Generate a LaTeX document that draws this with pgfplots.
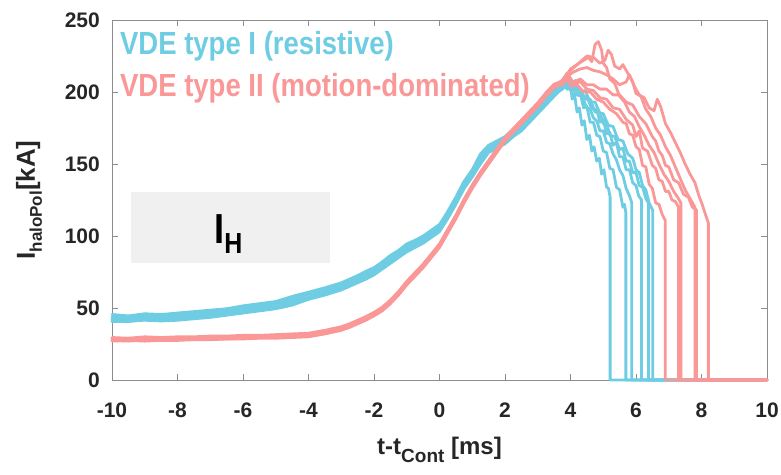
\documentclass[border=0pt]{standalone}
\usepackage{fontspec}
\setmainfont{Liberation Sans}
\newfontfamily\narrowfont{Liberation Sans}[FakeStretch=0.86]
\usepackage{pgfplots}
\pgfplotsset{compat=1.18}
\usepackage{pgfplotstable}
\definecolor{cy}{RGB}{110,205,226}
\definecolor{sa}{RGB}{250,152,152}
\definecolor{axgray}{RGB}{140,140,140}
\definecolor{tk}{RGB}{38,38,38}
\definecolor{boxgray}{RGB}{240,240,240}

\pgfplotstableread{
x c1 c2 c3 c4 c5 c6 s1 s2 s3 s4 s5 s6
-10 40.5 44 42 41 43 45.5 27 29 28 27.5 28.5 29.5
-9.5 41 43.5 42.5 40.5 44 44.5 27.5 28.5 28 27 29 29
-9 41.5 45 43 42 43.5 46 27 29.5 28.5 28 28.5 30
-8.5 41 44.5 43.5 42.5 44.5 45.5 27.5 29 28 27.5 29 29.5
-8 41.5 45.5 43 42 44 46.5 27.5 29.5 28.5 28 29 30
-7.5 42.5 46 44.5 43.5 46 47.5 28 29.5 28.5 28.5 29 30
-7 43.5 47.5 45 44.5 46.5 48.5 28 30 29 28.5 29.5 30.5
-6.5 45 48.5 47 46.5 48 49.5 28.5 30 29 28.5 30 30.5
-6 46.5 50.5 48 47.5 49.5 51.5 28.5 30.5 29.5 29 30 31
-5.5 48 51.5 50.5 49 51 53 29 30.5 29.5 29.5 30.5 31
-5 49.5 53.5 51 50.5 53 54.5 29 31 30 29.5 30.5 31.5
-4.5 52 57 55 53 56 58 29.5 31.5 30.5 30 31 32
-4 56 60 57.5 57 59.5 61 30 32 31 30.5 31.5 32.5
-3.5 59 63 61.5 60 62 64 32 34 33 32.5 33.5 34.5
-3 62.5 66.5 64 63.5 66 67.5 34.5 36.5 35.5 35 36 37
-2.75 65 68.5 67 66.5 68 70 36.5 38.5 37.5 37 38.5 39
-2.5 67.5 71.5 69 68.5 71 72.5 39 41 40 39.5 40.5 41.5
-2.25 70 74 72.5 71 73 75.5 41.5 43.5 42.5 42 43 44
-2 73 77.5 75 74 76 78 44.5 46.5 45.5 45 46 47
-1.75 77 81 79.5 78 80 82 48 50 49.5 48.5 49.5 50.5
-1.5 81 85 83 82.5 84 86.5 53 55 54 53.5 54.5 55.5
-1.25 85 89.5 87 86 88 90 59 61 60 59.5 60.5 61.5
-1 89 93 91.5 90 92 94.5 66 68 67 66.5 67.5 68.5
-0.75 92 96 94 93.5 95 97 72 74 73 72.5 73.5 74.5
-0.5 95 99.5 97 96 98 100 78 80 79 78.5 79.5 80.5
-0.25 99 103 101 100.5 102 104 85 87 86 85.5 86.5 87.5
0 103 107 105 104 106.5 108 92 94 93 92.5 93.5 94.5
0.25 112 116 114 113 115 117 102 104 103 102.5 103.5 104.5
0.5 122 126 123 123 125 127 112 114 113 112.5 113.5 114.5
0.75 133 137 135 133 136 138 123 125 124 123.5 124.5 125.5
1 141 145 143 142 144 146 133 135 134 133.5 134.5 135.5
1.25 150 155 152 151 153 157 142 144 143 142.5 143.5 144.5
1.5 158 162 160 159 161 163 150 152 151 150.5 151.5 152.5
1.75 161 165 163 162 164 166 158 160 159 158.5 159.5 160.5
2 164 168 166 165 167 169 166 168 167 166.5 167.5 168.5
2.25 169 173 171 170 172 174 172 174 173 172.5 173.5 174.5
2.5 173 177 175 174 176 178 178 180 179 178.5 179.5 180.5
2.75 179 183 181 180 182 184 184 186 185 184.5 185.5 186.5
3 185 189 187 186 188 190 190 192 191 190.5 191.5 192.5
3.25 191 195 193 192 194 196 197 199 198 197.5 198.5 199.5
3.5 197 201 199 198 200 202 203 205 204 203.5 204.5 205.5
3.75 203 206 204 202 205 207 206 208 207 208 205 207
}\early

\begin{document}
\begin{tikzpicture}
\begin{axis}[
  scale only axis, width=655pt, height=360pt,
  xmin=-10, xmax=10, ymin=0, ymax=250,
  xtick={-10,-8,...,10}, ytick={0,50,...,250},
  tick align=inside, major tick length=6pt,
  axis line style={axgray, line width=0.8pt},
  tick style={axgray, line width=0.8pt},
  /pgf/number format/assume math mode=true,
  ticklabel style={font=\bfseries\fontsize{21}{24}\selectfont, text=tk},
  xticklabel style={anchor=base, yshift=-37pt},
  yticklabel style={anchor=east, inner sep=0pt, xshift=-12pt},
  xlabel={t-t\raisebox{-8pt}{\fontsize{19}{19}\selectfont Cont} [ms]},
  xlabel style={at={(axis description cs:0.5,-0.2083)}, anchor=base, font=\bfseries\fontsize{24}{28}\selectfont, text=tk},
  ylabel={I\raisebox{-7pt}{\fontsize{17}{17}\selectfont haloPol}[kA]},
  ylabel style={at={(axis description cs:-0.1176,0.5)}, anchor=base, font=\bfseries\fontsize{26}{30}\selectfont, text=tk},
  clip=false,
  cyl/.style={cy, line width=2.8pt, line join=round, line cap=round},
  sal/.style={sa, line width=2.8pt, line join=round, line cap=round},
]
\fill[boxgray] (axis cs:-9.42,81.25) rectangle (axis cs:-3.34,130.6);
\node[anchor=base west, inner sep=0, text=black, font=\narrowfont\bfseries] at (axis cs:-6.88,95.1)
  {\fontsize{42}{42}\selectfont I\raisebox{-10pt}{\fontsize{29}{29}\selectfont H}};

% type I (cyan)
\addplot[cyl] table[x=x,y=c1]{\early};
\addplot[cyl] table[x=x,y=c2]{\early};
\addplot[cyl] table[x=x,y=c3]{\early};
\addplot[cyl] table[x=x,y=c4]{\early};
\addplot[cyl] table[x=x,y=c5]{\early};
\addplot[cyl] table[x=x,y=c6]{\early};
\addplot[cyl] coordinates {(3.75,203)(3.85,208)(3.92,202)(4.0,205)(4.05,195)(4.12,199)(4.2,186)(4.27,189)(4.35,177)(4.42,180)(4.5,167)(4.58,170)(4.65,159)(4.72,162)(4.8,152)(4.88,154)(4.95,143)(5.02,146)(5.1,134)(5.16,133)(5.21,127)(5.21,0)(10,0)};
\addplot[cyl] coordinates {(3.75,206)(3.9,210)(4.0,203)(4.1,207)(4.2,198)(4.3,199)(4.4,189)(4.5,190)(4.6,179)(4.7,179)(4.8,170)(4.9,169)(5.0,159)(5.1,158)(5.2,147)(5.3,146)(5.4,134)(5.5,132)(5.6,120)(5.65,122)(5.69,116)(5.69,0)(10,0)};
\addplot[cyl] coordinates {(3.75,204)(3.9,208)(4.0,201)(4.1,205)(4.2,198)(4.35,197)(4.5,189)(4.6,188)(4.7,182)(4.8,180)(4.9,173)(5.0,173)(5.1,165)(5.2,164)(5.3,157)(5.4,153)(5.5,146)(5.6,142)(5.7,133)(5.8,128)(5.87,123)(5.87,0)(10,0)};
\addplot[cyl] coordinates {(3.75,202)(3.9,206)(4.05,200)(4.2,204)(4.35,196)(4.5,197)(4.65,188)(4.8,188)(4.9,179)(5.0,181)(5.1,171)(5.2,172)(5.3,163)(5.4,165)(5.5,155)(5.6,155)(5.7,146)(5.8,146)(5.9,137)(6.0,135)(6.08,128)(6.17,125)(6.17,0)(10,0)};
\addplot[cyl] coordinates {(3.75,205)(3.9,202)(4.0,208)(4.15,201)(4.3,202)(4.45,195)(4.6,195)(4.75,186)(4.9,186)(5.0,178)(5.1,179)(5.2,170)(5.35,169)(5.5,160)(5.6,161)(5.7,152)(5.8,152)(5.9,144)(6.0,144)(6.1,135)(6.2,134)(6.3,126)(6.38,123)(6.38,0)(10,0)};
\addplot[cyl] coordinates {(3.75,207)(3.85,211)(4.0,204)(4.15,208)(4.3,200)(4.45,201)(4.6,193)(4.75,193)(4.9,185)(5.0,185)(5.15,177)(5.3,176)(5.45,167)(5.6,166)(5.75,157)(5.9,154)(6.0,146)(6.1,144)(6.2,135)(6.3,132)(6.4,123)(6.51,118)(6.51,0)(10,0)};

% type II (salmon)
\addplot[sal] table[x=x,y=s1]{\early};
\addplot[sal] table[x=x,y=s2]{\early};
\addplot[sal] table[x=x,y=s3]{\early};
\addplot[sal] table[x=x,y=s4]{\early};
\addplot[sal] table[x=x,y=s5]{\early};
\addplot[sal] table[x=x,y=s6]{\early};
\addplot[sal] coordinates {(3.75,206)(3.9,210)(4.0,204)(4.2,205)(4.4,200)(4.6,200)(4.8,195)(5.0,193)(5.2,188)(5.4,185)(5.6,179)(5.7,178)(5.8,171)(5.9,170)(6.0,162)(6.1,160)(6.2,149)(6.3,148)(6.4,136)(6.5,133)(6.6,123)(6.7,122)(6.8,115)(6.89,111)(6.89,0)(10,0)};
\addplot[sal] coordinates {(3.75,208)(3.9,213)(4.1,206)(4.3,207)(4.5,202)(4.7,201)(4.9,196)(5.1,195)(5.3,189)(5.5,188)(5.7,181)(5.9,177)(6.0,169)(6.1,173)(6.2,161)(6.35,159)(6.5,149)(6.6,147)(6.7,139)(6.8,138)(6.9,131)(7.0,131)(7.1,125)(7.2,124)(7.3,120)(7.3,0)(10,0)};
\addplot[sal] coordinates {(3.75,207)(3.9,212)(4.0,216)(4.2,219)(4.4,222)(4.55,224)(4.65,221)(4.75,233)(4.85,235)(4.95,229)(5.0,220)(5.1,217)(5.2,209)(5.35,206)(5.5,197)(5.65,193)(5.8,186)(5.95,183)(6.1,176)(6.25,170)(6.4,163)(6.55,158)(6.7,150)(6.85,143)(7.0,138)(7.15,131)(7.27,127)(7.37,123)(7.37,0)(10,0)};
\addplot[sal] coordinates {(3.75,208)(3.9,213)(4.1,217)(4.3,221)(4.5,225)(4.7,224)(4.9,220)(5.05,222)(5.15,229)(5.25,226)(5.35,218)(5.5,216)(5.6,219)(5.75,213)(5.9,207)(6.0,199)(6.15,197)(6.3,188)(6.45,183)(6.6,175)(6.75,170)(6.9,162)(7.05,156)(7.2,148)(7.35,140)(7.5,132)(7.65,126)(7.8,120)(7.8,0)(10,0)};
\addplot[sal] coordinates {(3.75,205)(3.9,209)(4.1,207)(4.3,209)(4.5,205)(4.7,205)(4.9,202)(5.1,202)(5.3,198)(5.5,198)(5.7,193)(5.9,191)(6.1,183)(6.3,178)(6.5,169)(6.6,166)(6.7,159)(6.8,156)(6.9,149)(7.0,148)(7.15,139)(7.3,137)(7.45,129)(7.6,127)(7.72,120)(7.85,118)(7.85,0)(10,0)};
\addplot[sal] coordinates {(3.75,207)(3.9,211)(4.1,214)(4.3,216)(4.5,217)(4.7,215)(4.9,214)(5.1,212)(5.3,209)(5.5,205)(5.7,207)(5.8,212)(5.95,204)(6.1,198)(6.25,196)(6.4,189)(6.55,187)(6.65,195)(6.75,190)(6.9,178)(7.05,172)(7.2,165)(7.35,158)(7.5,150)(7.65,143)(7.8,137)(7.92,128)(8.02,122)(8.12,115)(8.21,109)(8.21,0)(10,0)};

\node[anchor=base west, inner sep=0, text=cy, font=\narrowfont\bfseries\fontsize{32}{32}\selectfont] at (axis cs:-9.76,225.7) {VDE type I (resistive)};
\node[anchor=base west, inner sep=0, text=sa, font=\narrowfont\bfseries\fontsize{32}{32}\selectfont] at (axis cs:-9.76,196.8) {VDE type II (motion-dominated)};
\end{axis}
\pgfresetboundingbox
\path[use as bounding box] (-112pt,-94pt) rectangle (669pt,380pt);
\end{tikzpicture}
\end{document}
